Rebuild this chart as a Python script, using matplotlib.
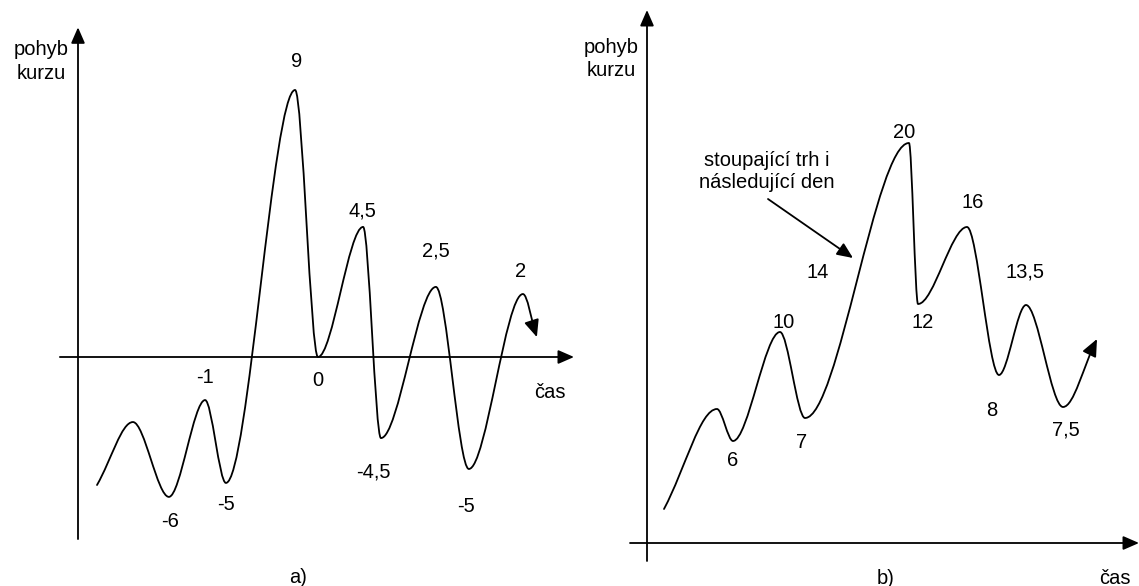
import matplotlib.pyplot as plt
from matplotlib.path import Path
from matplotlib.patches import FancyArrowPatch

plt.rcParams['font.family'] = ['Liberation Sans', 'DejaVu Sans']
plt.rcParams['font.size'] = 14.5

# panel a) - turning points of the curve (time, drawn level) and their labels
a_time = [0.64, 1.85, 3.06, 4.28, 4.98, 7.31, 8.08, 9.60, 10.20, 12.05, 13.16, 14.98, 15.45]
a_level = [-4.31, -2.19, -4.71, -1.45, -4.24, 8.99, 0.0, 4.38, -2.73, 2.36, -3.77, 2.12, 0.67]
a_labels = ['', '', '-6', '-1', '-5', '9', '0', '4,5', '-4,5', '2,5', '-5', '2', '']

# panel b)
b_time = [0.85, 3.5, 4.3, 6.65, 7.9, 13.1, 13.55, 16.0, 17.6, 18.95, 20.8, 22.5]
b_level = [1.7, 6.7, 5.1, 10.55, 6.25, 20.0, 11.95, 15.8, 8.4, 11.9, 6.8, 10.2]
b_labels = ['', '', '6', '10', '7', '20', '12', '16', '8', '13,5', '7,5', '']

# label offsets in pixels (dx, dy), one per point
a_off = [(0, 0), (0, 0), (1, -25), (0, 23), (0, -22), (2, 28), (0, -23),
         (-1, 16), (-8, -34), (0, 36), (-3, -38), (-2, 23), (0, 0)]
b_off = [(0, 0), (0, 0), (0, -20), (4, 10), (-3, -24), (-5, 10), (5, -18),
         (6, 25), (-7, -35), (-1, 33), (3, -23), (0, 0)]

W, H = 1139, 586
ARROW = '-|>,head_length=0.8,head_width=0.35'


def panel(fig, px0, px1, ox, oy, scale):
    # axes spanning pixel columns px0..px1, origin of the chart at pixel (ox, oy)
    ax = fig.add_axes([px0 / W, 0, (px1 - px0) / W, 1])
    ax.set_xlim((px0 - ox) / scale, (px1 - ox) / scale)
    ax.set_ylim((oy - H) / scale, oy / scale)
    ax.axis('off')
    ax.patch.set_alpha(0)
    return ax


def axis_arrow(ax, start, end):
    ax.annotate('', xy=end, xytext=start, annotation_clip=False,
                arrowprops=dict(arrowstyle=ARROW, mutation_scale=12, lw=1.3,
                                color='black', shrinkA=0, shrinkB=0))


def curve(ax, ts, ys, k=0.32):
    verts = [(ts[0], ys[0])]
    codes = [Path.MOVETO]
    n = len(ts)
    for i in range(n - 1):
        t0, y0, t1, y1 = ts[i], ys[i], ts[i + 1], ys[i + 1]
        dt = t1 - t0
        if i == 0:
            c1 = (t0 + 0.4 * dt, y0 + 0.4 * (y1 - y0))
        else:
            c1 = (t0 + k * dt, y0)
        if i == n - 2:
            c2 = (t1 - 0.4 * dt, y1 - 0.4 * (y1 - y0))
        else:
            c2 = (t1 - k * dt, y1)
        verts += [c1, c2, (t1, y1)]
        codes += [Path.CURVE4] * 3
    p = FancyArrowPatch(path=Path(verts, codes), arrowstyle=ARROW,
                        mutation_scale=13, lw=1.3, color='black', clip_on=False)
    ax.add_patch(p)


def labels(ax, ts, ys, labs, offs):
    for t, y, s, (dx, dy) in zip(ts, ys, labs, offs):
        if s:
            ax.annotate(s, xy=(t, y), xytext=(dx, dy), textcoords='offset pixels',
                        ha='center', va='center', annotation_clip=False)


fig = plt.figure(figsize=(W / 100, H / 100), dpi=100)

# a)
ax = panel(fig, 0, 600, 78, 357, 29.7)
axis_arrow(ax, (0, -6.13), (0, 11.1))
axis_arrow(ax, (-0.61, 0), (16.7, 0))
curve(ax, a_time, a_level)
labels(ax, a_time, a_level, a_labels, a_off)
ax.text(-1.25, 9.95, 'pohyb\nkurzu', ha='center', va='center', linespacing=1.35)
ax.text(15.9, -1.18, 'čas', ha='center', va='center')
ax.text(7.41, -7.44, 'a)', ha='center', va='center')

# b)
ax = panel(fig, 560, 1139, 647, 543, 20)
axis_arrow(ax, (0, -0.9), (0, 26.65))
axis_arrow(ax, (-0.85, 0), (24.6, 0))
curve(ax, b_time, b_level)
labels(ax, b_time, b_level, b_labels, b_off)
ax.text(-1.8, 24.2, 'pohyb\nkurzu', ha='center', va='center', linespacing=1.25)
ax.text(6.0, 18.55, 'stoupající trh i\nnásledující den', ha='center', va='center',
        linespacing=1.2)
axis_arrow(ax, (6.05, 17.2), (10.3, 14.25))
ax.text(8.55, 13.55, '14', ha='center', va='center')
ax.text(23.4, -1.75, 'čas', ha='center', va='center')
ax.text(11.95, -1.75, 'b)', ha='center', va='center')

fig.savefig('out.png', dpi=100)
